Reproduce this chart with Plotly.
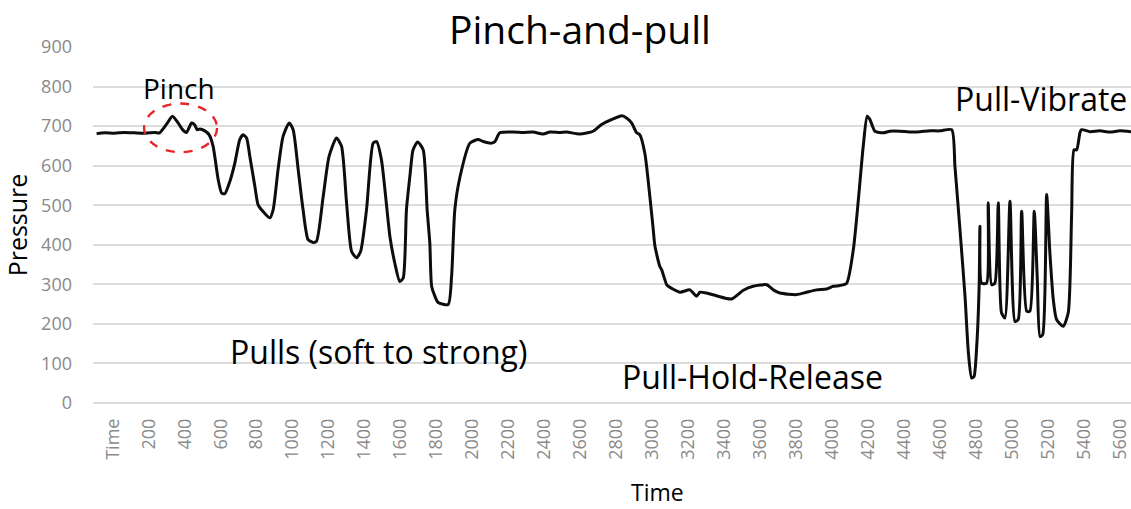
import plotly.graph_objects as go

# Pressure trace of the pinch-and-pull gesture sequence
time_pts = [
    -90, -45, 10, 65, 120, 180, 235, 260,
    299, 332, 363, 388, 410, 438, 456, 469, 484, 512, 536,
    558, 586, 605, 623, 651, 679, 706, 725, 744, 762, 790, 808, 836, 873, 892,
    919, 947, 981, 1003, 1031, 1058, 1086, 1114, 1133, 1170, 1203, 1244, 1272,
    1300, 1328, 1355, 1378, 1411, 1448, 1467, 1494, 1541, 1568, 1596, 1615,
    1633, 1652, 1670, 1695, 1726, 1748, 1763, 1773, 1791, 1809, 1865, 1884,
    1902, 1930, 1986, 2032, 2060, 2106, 2125, 2152, 2226, 2282, 2338, 2393,
    2430, 2486, 2523, 2597, 2671, 2718, 2783, 2829, 2853, 2885, 2913, 2931,
    2959, 2987, 3005, 3015, 3042, 3052, 3080, 3089, 3154, 3209, 3246, 3265,
    3302, 3357, 3441, 3506, 3561, 3636, 3673, 3710, 3803, 3858, 3914, 3969,
    4006, 4043, 4081, 4118, 4146,
    4173, 4195, 4210, 4238, 4284, 4321, 4377, 4430, 4488, 4545, 4600, 4665,
    4683, 4711, 4739, 4758, 4776, 4789, 4804, 4818, 4822, 4831, 4859, 4868,
    4887, 4905, 4924, 4942, 4961, 4989, 5017, 5035, 5054, 5082, 5100, 5124,
    5141, 5156, 5171, 5193, 5211, 5230, 5248, 5285, 5313, 5332, 5345, 5360,
    5378, 5387, 5434, 5489, 5545, 5600, 5662,
]
pressure_pts = [
    681, 683, 682, 684, 683, 682, 684, 683,
    705, 725, 708, 691, 684, 708, 703, 691, 693, 688, 678,
    649, 565, 531, 529, 560, 607, 666, 678, 670, 624, 548, 501, 484, 468, 489,
    590, 674, 708, 691, 590, 489, 413, 406, 409, 522, 624, 670, 649,
    506, 383, 367, 383, 489, 657, 661, 615, 421, 354, 307, 316,
    489, 573, 640, 660, 640, 489, 404, 295, 270, 254, 249, 320,
    489, 570, 657, 666, 661, 657, 661, 683, 685, 684, 685, 680,
    685, 684, 685, 680, 687, 704, 718, 726, 722, 708, 683, 678,
    630, 520, 440, 396, 345, 337, 299, 295, 280, 286, 270, 280,
    278, 271, 263, 285, 295, 299, 286, 278, 274, 280, 286, 288,
    295, 297, 303, 388, 514,
    649, 725, 717, 687, 683, 687, 687, 685, 686, 688, 688, 691,
    598, 438, 270, 126, 63, 67, 143, 303, 447, 303, 303, 506,
    299, 303, 506, 228, 215, 510, 206, 211, 485, 232, 232, 485,
    312, 168, 173, 527, 379, 261, 211, 194, 228, 481, 640, 640,
    683, 691, 686, 688, 685, 688, 686,
]

tick_vals = list(range(0, 5601, 200))
tick_text = ["Time"] + [str(v) for v in tick_vals[1:]]

FONT = "Open Sans"
GRID = "#dcdcdc"
TICK_GRAY = "#8a8a8a"

fig = go.Figure()
fig.add_trace(go.Scatter(
    x=time_pts, y=pressure_pts, mode="lines",
    line=dict(color="#0d0d0d", width=3, shape="spline", smoothing=0.6),
    showlegend=False, hoverinfo="x+y",
))

# dashed ring around the pinch bump
fig.add_shape(
    type="circle", xref="x", yref="y",
    x0=174, x1=580, y0=634, y1=757,
    line=dict(color="#e8262a", width=2.4, dash="dash"),
)

notes = [
    ("Pinch", 367, 797, 28),
    ("Pulls (soft to strong)", 1479, 130, 32),
    ("Pull-Hold-Release", 3560, 66, 32),
    ("Pull-Vibrate", 5164, 770, 32),
]
for text, xv, yv, size in notes:
    fig.add_annotation(
        x=xv, y=yv, xref="x", yref="y", text=text, showarrow=False,
        xanchor="center", yanchor="middle",
        font=dict(family=FONT, size=size, color="#000000"),
    )

fig.add_annotation(
    x=0.5437, y=-0.249, xref="paper", yref="paper", text="Time",
    showarrow=False, xanchor="center", yanchor="middle",
    font=dict(family=FONT, size=23, color="#000000"),
)

fig.update_layout(
    width=1131, height=509,
    margin=dict(l=93.3, r=0, t=47.3, b=105.7, pad=0),
    paper_bgcolor="white", plot_bgcolor="white",
    font=dict(family=FONT),
    title=dict(
        text="Pinch-and-pull", x=0.5128, xanchor="center",
        y=0.941, yanchor="middle", yref="container",
        font=dict(family=FONT, size=39, color="#000000"),
    ),
    xaxis=dict(
        range=[-110, 5662], tickmode="array",
        tickvals=tick_vals, ticktext=tick_text, tickangle=-90,
        showgrid=False, zeroline=False, showline=False, ticks="",
        ticklabelstandoff=11,
        tickfont=dict(family=FONT, size=18, color=TICK_GRAY),
    ),
    yaxis=dict(
        range=[0, 900], dtick=100, tick0=0,
        showgrid=True, gridcolor=GRID, gridwidth=1.5,
        zeroline=True, zerolinecolor=GRID, zerolinewidth=1.5,
        showline=False, ticks="", ticklabelstandoff=20,
        tickfont=dict(family=FONT, size=18, color=TICK_GRAY),
        title=dict(text="Pressure", standoff=6,
                   font=dict(family=FONT, size=25, color="#000000")),
    ),
)

fig.write_html("out.html")
